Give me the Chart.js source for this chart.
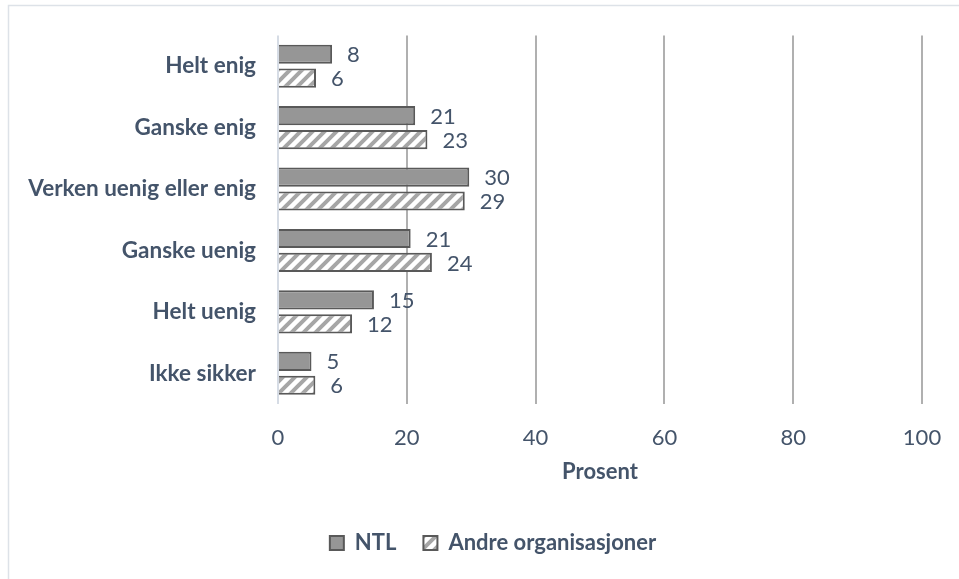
<!DOCTYPE html>
<html>
<head>
<meta charset="utf-8">
<script src="https://cdn.jsdelivr.net/npm/chart.js@4/dist/chart.umd.min.js"></script>
<style>
  html, body { margin: 0; padding: 0; background: #fff; overflow: hidden; }
  #wrap { position: absolute; left: 0; top: 0; width: 980px; height: 579px; }
</style>
</head>
<body>
<div id="wrap"><canvas id="chart" width="980" height="579"></canvas></div>
<script>
const categories = ["Helt enig", "Ganske enig", "Verken uenig eller enig", "Ganske uenig", "Helt uenig", "Ikke sikker"];
const ntlValues = [8.4, 21.3, 29.7, 20.6, 14.9, 5.2];
const andreValues = [5.9, 23.2, 29.0, 23.9, 11.5, 5.8];
const ntlLabels = [8, 21, 30, 21, 15, 5];
const andreLabels = [6, 23, 29, 24, 12, 6];
const xTicks = [0, 20, 40, 60, 80, 100];

const textColor = "#44546A";
const fontFamily = "Lato, 'Open Sans', sans-serif";

// hatched fill for "Andre organisasjoner"
function makeHatch() {
  const c = document.createElement("canvas");
  c.width = 12;
  c.height = 12;
  const g = c.getContext("2d");
  g.fillStyle = "#ffffff";
  g.fillRect(0, 0, 12, 12);
  g.strokeStyle = "#a6a6a6";
  g.lineWidth = 4;
  g.beginPath();
  g.moveTo(-3, 15); g.lineTo(15, -3);
  g.moveTo(-9, 9); g.lineTo(9, -9);
  g.moveTo(3, 21); g.lineTo(21, 3);
  g.stroke();
  return g.createPattern(c, "repeat");
}
const hatch = makeHatch();

const frame = {
  id: "frame",
  beforeDraw(chart) {
    const ctx = chart.ctx;
    ctx.save();
    ctx.fillStyle = "#fff";
    ctx.fillRect(0, 0, chart.width, chart.height);
    ctx.strokeStyle = "#dde2e8";
    ctx.lineWidth = 1.5;
    ctx.strokeRect(8.5, 5.5, 967, 600);
    ctx.restore();
  }
};

// legend in the original sits a bit right of the plot centre
const legendShift = {
  id: "legendShift",
  afterLayout(chart) {
    chart.legend.left += 27;
    chart.legend.right += 27;
  }
};

const valueLabels = {
  id: "valueLabels",
  afterDatasetsDraw(chart) {
    const ctx = chart.ctx;
    const sets = [ntlLabels, andreLabels];
    ctx.save();
    ctx.font = "22px " + fontFamily;
    ctx.fillStyle = textColor;
    ctx.textAlign = "left";
    ctx.textBaseline = "middle";
    chart.data.datasets.forEach((ds, di) => {
      chart.getDatasetMeta(di).data.forEach((bar, i) => {
        ctx.fillText(String(sets[di][i]), bar.x + 15, bar.y + 1);
      });
    });
    ctx.restore();
  }
};

new Chart(document.getElementById("chart"), {
  type: "bar",
  data: {
    labels: categories,
    datasets: [
      {
        label: "NTL",
        data: ntlValues,
        backgroundColor: "#969696",
        borderColor: "#595959",
        borderWidth: 2,
        categoryPercentage: 0.78,
        barPercentage: 0.8
      },
      {
        label: "Andre organisasjoner",
        data: andreValues,
        backgroundColor: hatch,
        borderColor: "#595959",
        borderWidth: 2,
        categoryPercentage: 0.78,
        barPercentage: 0.8
      }
    ]
  },
  options: {
    indexAxis: "y",
    responsive: false,
    animation: false,
    layout: { padding: { left: 10, right: 58, top: 34, bottom: 15 } },
    scales: {
      x: {
        min: 0,
        max: 100,
        afterBuildTicks: scale => { scale.ticks = xTicks.map(v => ({ value: v })); },
        afterFit: scale => { scale.height = 101; },
        grid: {
          drawTicks: false,
          color: c => c.index === 0 ? "#d6dce5" : "#b0b0b0",
          lineWidth: 2
        },
        border: { display: false },
        ticks: {
          padding: 21,
          color: textColor,
          font: { family: fontFamily, size: 22 }
        },
        title: {
          display: true,
          text: "Prosent",
          color: textColor,
          font: { family: fontFamily, size: 22, weight: "bold" },
          padding: { top: 0, bottom: 20 }
        }
      },
      y: {
        afterFit: scale => { scale.width = 268; },
        grid: { display: false, drawTicks: false },
        border: { display: false },
        ticks: {
          padding: 22,
          color: textColor,
          font: { family: fontFamily, size: 22.5, weight: "bold" }
        }
      }
    },
    plugins: {
      legend: {
        position: "bottom",
        labels: {
          boxWidth: 14,
          boxHeight: 14,
          padding: 27,
          color: textColor,
          font: { family: fontFamily, size: 22, weight: "bold" }
        }
      },
      tooltip: { enabled: false }
    }
  },
  plugins: [frame, legendShift, valueLabels]
});
</script>
</body>
</html>
